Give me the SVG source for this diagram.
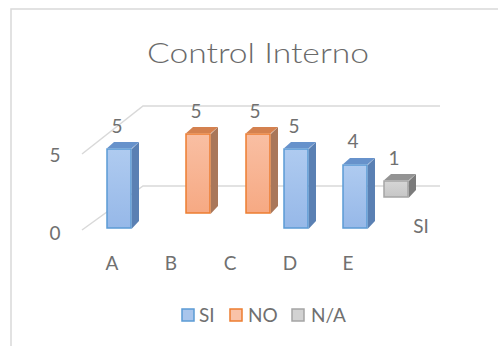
<svg xmlns="http://www.w3.org/2000/svg" width="498" height="346" viewBox="0 0 498 346">
<defs>
<linearGradient id="gBlue" x1="0" y1="0" x2="0" y2="1"><stop offset="0" stop-color="#afcbf0"/><stop offset="1" stop-color="#96b8e8"/></linearGradient>
<linearGradient id="gOrange" x1="0" y1="0" x2="0" y2="1"><stop offset="0" stop-color="#f9bfa3"/><stop offset="1" stop-color="#f6a983"/></linearGradient>
<linearGradient id="gGray" x1="0" y1="0" x2="0" y2="1"><stop offset="0" stop-color="#d6d6d6"/><stop offset="1" stop-color="#c6c6c6"/></linearGradient>
</defs>
<style>
text{font-family:Lato,"Open Sans","Liberation Sans",sans-serif;fill:#707070}
.title{font-weight:300;fill:#6a6a6a}
.grid{stroke:#d9d9d9;stroke-width:1.5;fill:none}
.bf{fill:url(#gBlue);stroke:#5b9bd5;stroke-width:1.5}
.bs{fill:#5a80b3}
.bt{fill:#6792cb}
.of{fill:url(#gOrange);stroke:#ed7d31;stroke-width:1.5}
.os{fill:#a9775a}
.ot{fill:#d4814f}
.gf{fill:url(#gGray);stroke:#a5a5a5;stroke-width:1.5}
.gs{fill:#7b7b7b}
.gt{fill:#939393}
.lbl{font-size:19px;text-anchor:middle}
.cat{font-size:19px;text-anchor:middle}
.leg{font-size:19px}
</style>
<rect x="0" y="0" width="498" height="346" fill="#ffffff"/>
<path d="M11,346 V9 H498" fill="none" stroke="#d9d9d9" stroke-width="1.5"/>
<text class="title" x="258" y="63" font-size="28" text-anchor="middle" textLength="222" lengthAdjust="spacingAndGlyphs">Control Interno</text>
<g id="grid">
<path class="grid" d="M82,154 L143,106 H440"/>
<path class="grid" d="M82,230 L143,186 H440"/>
</g>
<text class="lbl" x="55" y="162">5</text>
<text class="lbl" x="55" y="240">0</text>
<g id="bar-na">
<rect class="gf" x="384" y="181" width="24" height="16"/>
<polygon class="gs" points="408.75,181 416,174 416,190 408.75,197.75"/>
<polygon class="gt" points="384,180.25 391,174 416,174 408.75,180.25"/>
<text class="lbl" x="394" y="165">1</text>
</g>
<g id="bar-b">
<rect class="of" x="186" y="134" width="24" height="79"/>
<polygon class="os" points="210.75,134 218,127 218,206 210.75,213.75"/>
<polygon class="ot" points="186,133.25 193,127 218,127 210.75,133.25"/>
<text class="lbl" x="196" y="118">5</text>
</g>
<g id="bar-c">
<rect class="of" x="246" y="134" width="24" height="79"/>
<polygon class="os" points="270.75,134 278,127 278,206 270.75,213.75"/>
<polygon class="ot" points="246,133.25 253,127 278,127 270.75,133.25"/>
<text class="lbl" x="255" y="118">5</text>
</g>
<g id="bar-a">
<rect class="bf" x="107" y="149" width="24" height="79"/>
<polygon class="bs" points="131.75,149 139,142 139,221 131.75,228.75"/>
<polygon class="bt" points="107,148.25 114,142 139,142 131.75,148.25"/>
<text class="lbl" x="117" y="133">5</text>
</g>
<g id="bar-d">
<rect class="bf" x="284" y="149" width="24" height="79"/>
<polygon class="bs" points="308.75,149 316,142 316,221 308.75,228.75"/>
<polygon class="bt" points="284,148.25 291,142 316,142 308.75,148.25"/>
<text class="lbl" x="294" y="133">5</text>
</g>
<g id="bar-e">
<rect class="bf" x="343" y="165" width="24" height="63"/>
<polygon class="bs" points="367.75,165 375,158 375,221 367.75,228.75"/>
<polygon class="bt" points="343,164.25 350,158 375,158 367.75,164.25"/>
<text class="lbl" x="353" y="148">4</text>
</g>
<text class="cat" x="421" y="233">SI</text>
<g id="categories">
<text class="cat" x="112" y="270">A</text>
<text class="cat" x="171" y="270">B</text>
<text class="cat" x="230" y="270">C</text>
<text class="cat" x="290" y="270">D</text>
<text class="cat" x="348" y="270">E</text>
</g>
<g id="legend">
<rect x="182" y="309" width="12" height="12" fill="#a9c5ec" stroke="#5b9bd5" stroke-width="1.5"/>
<text class="leg" x="199" y="322">SI</text>
<rect x="230" y="309" width="12" height="12" fill="#f9c3a8" stroke="#ed7d31" stroke-width="1.5"/>
<text class="leg" x="248" y="322">NO</text>
<rect x="292" y="309" width="12" height="12" fill="#d2d2d2" stroke="#a5a5a5" stroke-width="1.5"/>
<text class="leg" x="311" y="322">N/A</text>
</g>
</svg>
